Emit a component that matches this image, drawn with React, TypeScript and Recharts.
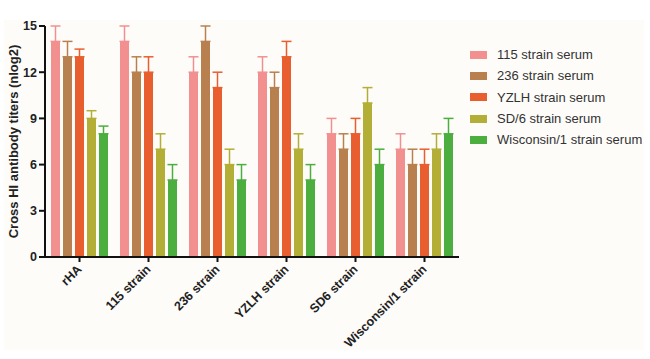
import { Bar, BarChart, ErrorBar, XAxis, YAxis } from "recharts";

const categories = ["rHA", "115 strain", "236 strain", "YZLH strain", "SD6 strain", "Wisconsin/1 strain"];

const seriesNames = ["115 strain serum", "236 strain serum", "YZLH strain serum", "SD/6 strain serum", "Wisconsin/1 strain serum"];
const seriesColors = ["#f29090", "#b8804f", "#e95e2f", "#b3ae35", "#4cae3f"];

const serum115 = [14, 14, 12, 12, 8, 7];
const serum236 = [13, 12, 14, 11, 7, 6];
const serumYZLH = [13, 12, 11, 13, 8, 6];
const serumSD6 = [9, 7, 6, 7, 10, 7];
const serumWis = [8, 5, 5, 5, 6, 8];

const err115 = [1, 1, 1, 1, 1, 1];
const err236 = [1, 1, 1, 1, 1, 1];
const errYZLH = [0.5, 1, 1, 1, 1, 1];
const errSD6 = [0.5, 1, 1, 1, 1, 1];
const errWis = [0.5, 1, 1, 1, 1, 1];

const yTicks = [0, 3, 6, 9, 12, 15];

const values = [serum115, serum236, serumYZLH, serumSD6, serumWis];
const errors = [err115, err236, errYZLH, errSD6, errWis];

const data = categories.map((c, i) => {
    const row: any = { name: c };
    values.forEach((v, s) => {
        row["s" + s] = v[i];
        row["e" + s] = [0, errors[s][i]];
    });
    return row;
});

const font = "Arial, 'Liberation Sans', sans-serif";

const XTick = (props: any) => {
    const { x, y, payload } = props;
    return (
        <g transform={`translate(${x + 3},${y + 6})`}>
            <text textAnchor="end" transform="rotate(-45)" fontSize={12.5} fontWeight="bold" fill="#222" fontFamily={font}>
                {payload.value}
            </text>
        </g>
    );
};

const App = () => {
    return (
        <div style={{ position: "absolute", left: 0, top: 0, width: 650, height: 359, background: "#fff" }}>
            <div style={{ position: "absolute", left: 4, top: 20, width: 640, height: 330, background: "#fdfcf9" }} />
            <div style={{ position: "absolute", left: 0, top: 0 }}>
                <BarChart width={650} height={359} data={data} margin={{ top: 26, right: 191, bottom: 12, left: 0 }} barSize={9} barGap={3}>
                    <XAxis
                        dataKey="name"
                        interval={0}
                        height={90}
                        stroke="#111"
                        strokeWidth={2}
                        tickSize={5}
                        tick={<XTick />}
                    />
                    <YAxis
                        domain={[0, 15]}
                        ticks={yTicks}
                        width={45}
                        stroke="#111"
                        strokeWidth={2}
                        tickSize={6}
                        tick={{ fontSize: 12.5, fontWeight: "bold", fill: "#222", fontFamily: font }}
                        label={{
                            value: "Cross HI antibody titers (nlog2)",
                            angle: -90,
                            position: "insideLeft",
                            dx: 8,
                            style: { fontSize: 13, fontWeight: "bold", fill: "#222", fontFamily: font, textAnchor: "middle" },
                        }}
                    />
                    {seriesNames.map((n, s) => (
                        <Bar key={n} dataKey={"s" + s} name={n} fill={seriesColors[s]} isAnimationActive={false}>
                            <ErrorBar dataKey={"e" + s} direction="y" width={5} stroke={seriesColors[s]} strokeWidth={1.5} />
                        </Bar>
                    ))}
                </BarChart>
            </div>
            <div style={{ position: "absolute", left: 470, top: 44, fontFamily: font, fontSize: 13, color: "#333" }}>
                {seriesNames.map((n, s) => (
                    <div key={n} style={{ display: "flex", alignItems: "center", height: 21.3 }}>
                        <span style={{ display: "inline-block", width: 17, height: 8, background: seriesColors[s], marginRight: 10 }} />
                        <span>{n}</span>
                    </div>
                ))}
            </div>
        </div>
    );
};

export default App;
